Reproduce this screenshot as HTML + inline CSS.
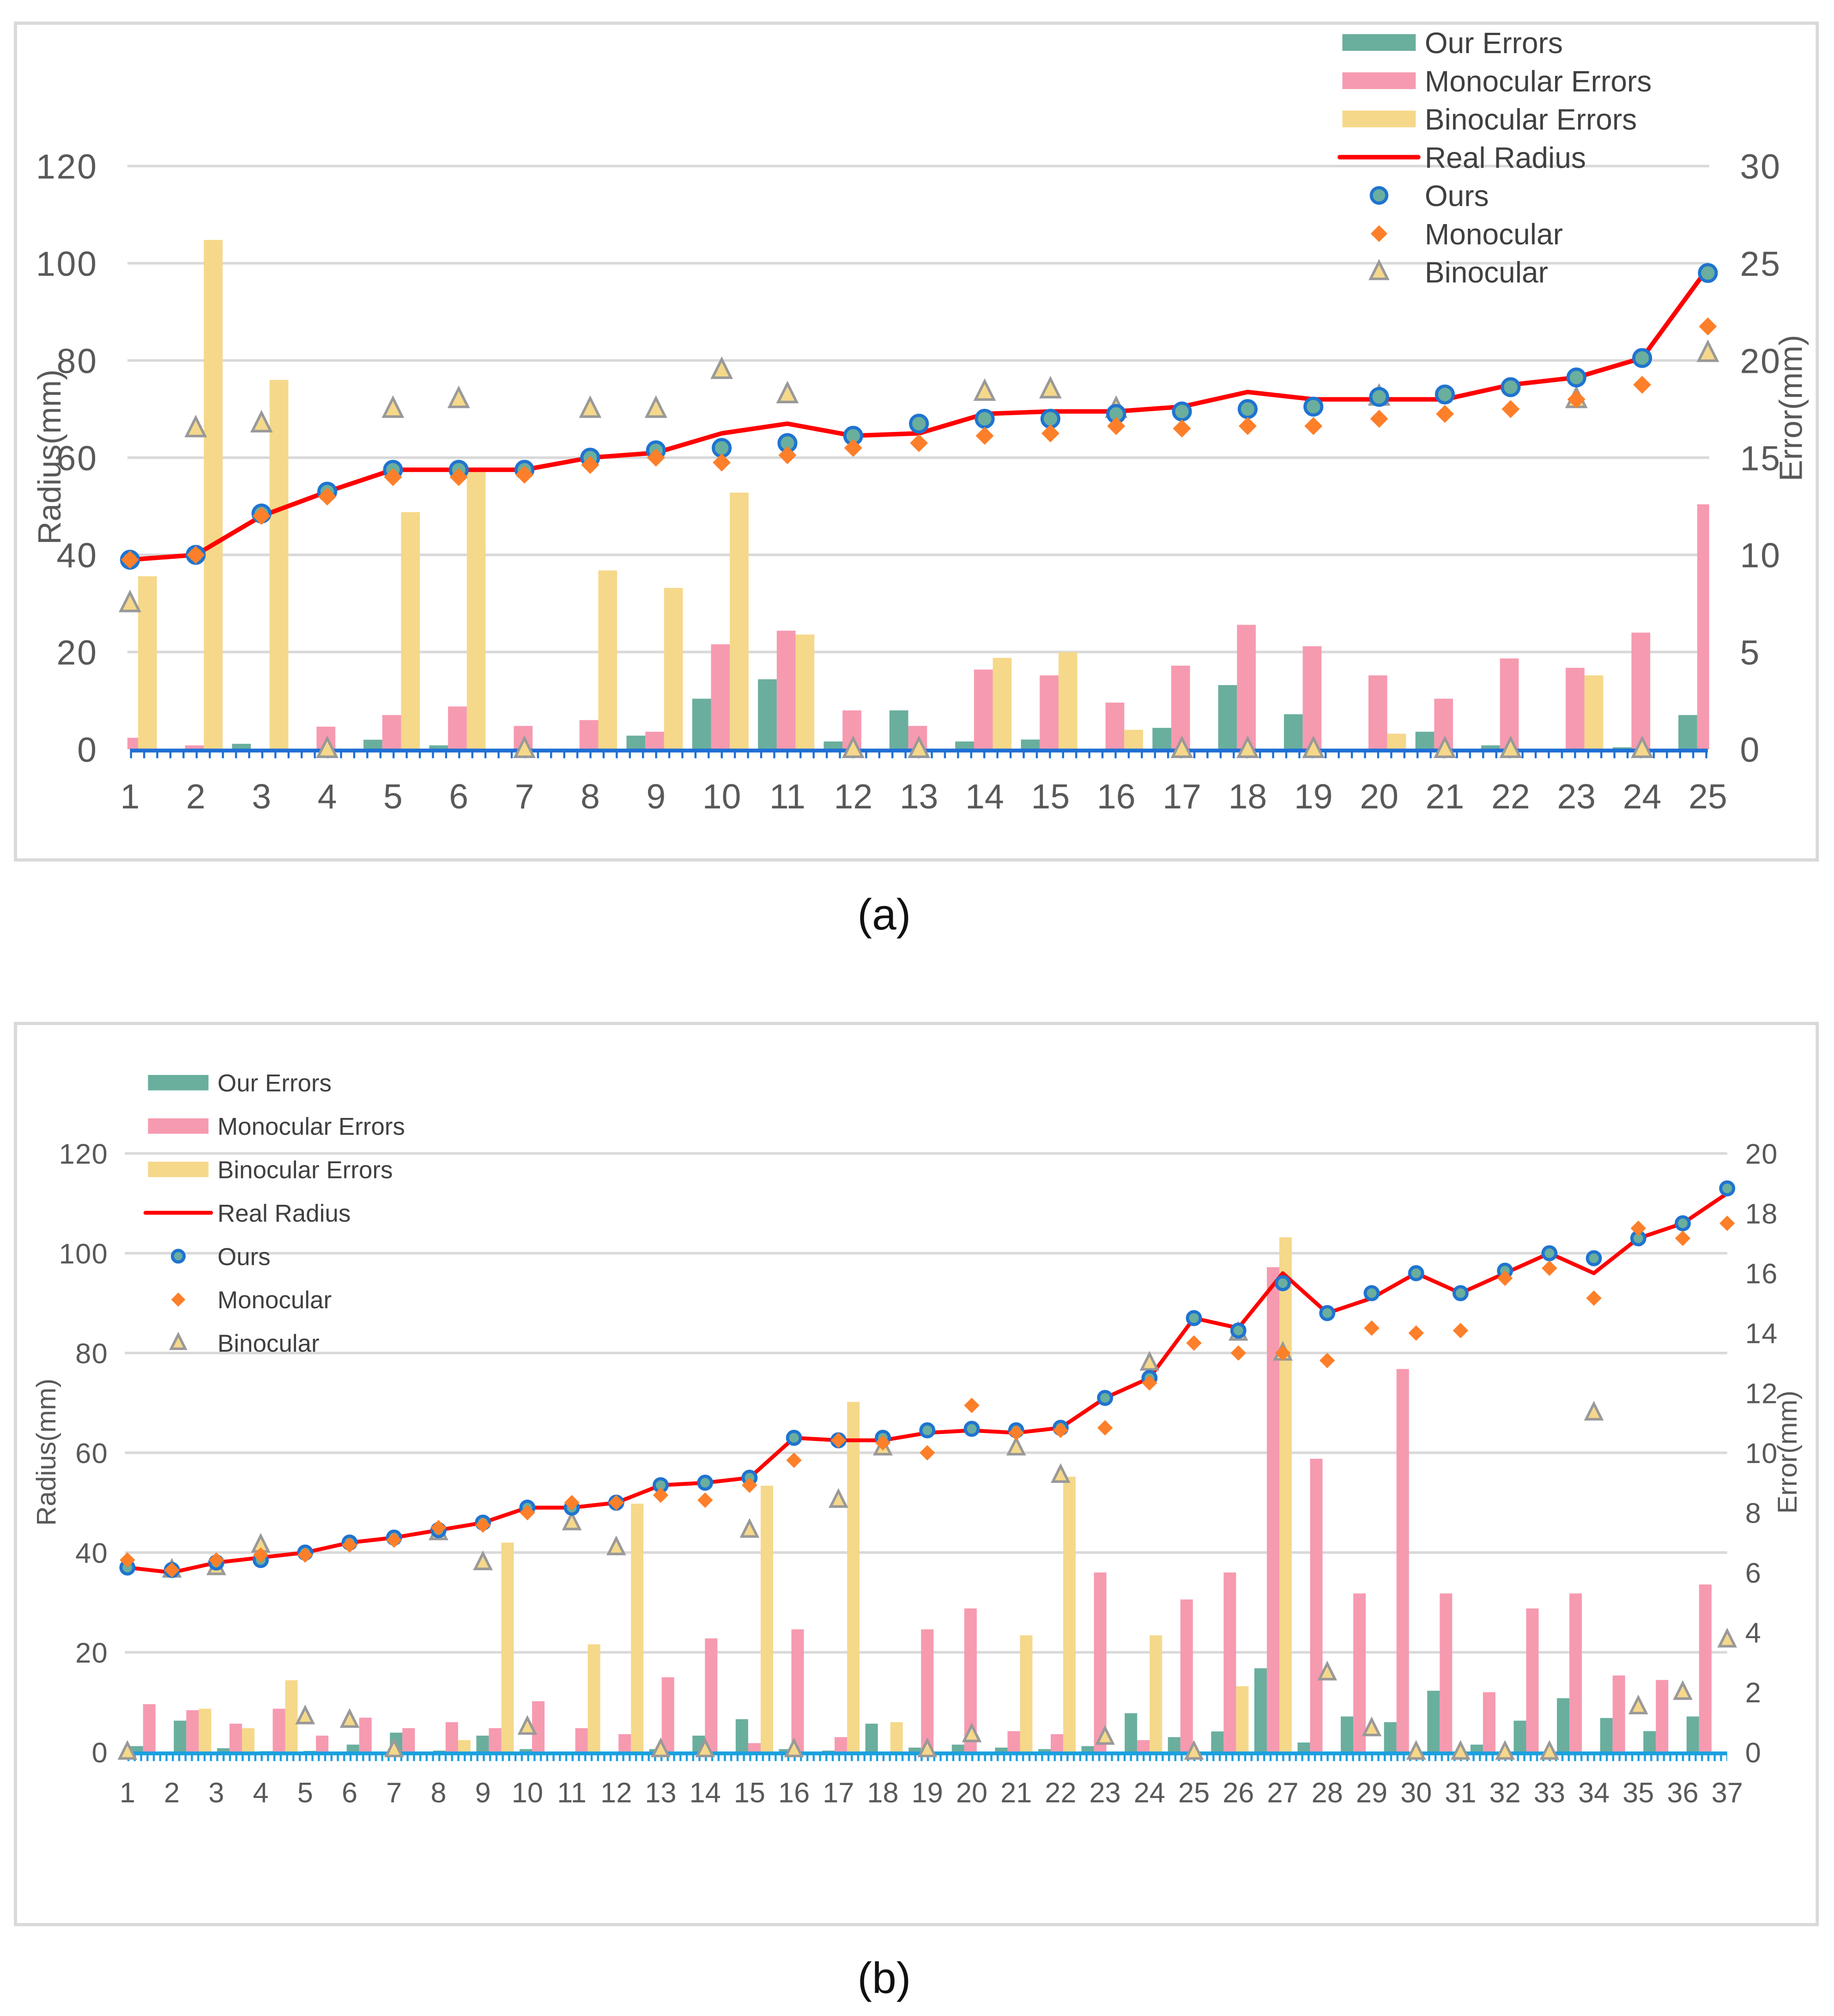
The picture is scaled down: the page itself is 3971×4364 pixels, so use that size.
<!DOCTYPE html>
<html><head><meta charset="utf-8">
<style>
html,body{margin:0;padding:0;background:#fff;}
svg{display:block;}
text{font-family:"Liberation Sans",sans-serif;}
</style></head>
<body>
<svg id="root" xmlns="http://www.w3.org/2000/svg" width="3971" height="4364" viewBox="0 0 1425 1566" preserveAspectRatio="none">
<rect x="0" y="0" width="1425" height="1566" fill="#fff"/>
<rect x="12" y="18" width="1400" height="650" fill="none" stroke="#d9d9d9" stroke-width="2.5"/>
<rect x="12" y="795" width="1400" height="700" fill="none" stroke="#d9d9d9" stroke-width="2.5"/>
<text x="687" y="722" font-size="34" text-anchor="middle" fill="#111">(a)</text>
<text x="687" y="1548" font-size="34" text-anchor="middle" fill="#111">(b)</text>
<g id="chartA"></g>
<g id="chartB"></g>
</svg>
<script>
// ---------- Chart (a) data ----------
const catsA = [1,2,3,4,5,6,7,8,9,10,11,12,13,14,15,16,17,18,19,20,21,22,23,24,25];
const realA = [39,40,48,53,57.5,57.5,57.5,60,61,65,67,64.5,65,69,69.5,69.5,70.5,73.5,72,72,72,75,76.5,80.5,99];
const oursA = [39,40,48.5,53,57.5,57.5,57.5,60,61.5,62,63,64.5,67,68,68,69,69.5,70,70.5,72.5,73,74.5,76.5,80.5,98];
const monoA = [39,40,48,52,56,56,56.5,58.5,60,59,60.5,62,63,64.5,65,66.5,66,66.5,66.5,68,69,70,72,75,87];
const binoA = [30,66,67,0,70,72,0,70,70,78,73,0,0,73.5,74,70,0,0,0,72.5,0,0,72,0,81.5];
const ourErrA = [0,0,0.28,0,0.49,0.2,0,0,0.7,2.6,3.6,0.4,2.0,0.4,0.5,0,1.1,3.3,1.8,0,0.9,0.2,0,0.1,1.76];
const monoErrA = [0.59,0.2,0,1.16,1.76,2.2,1.2,1.5,0.9,5.4,6.1,2.0,1.2,4.1,3.8,2.4,4.3,6.4,5.3,3.8,2.6,4.67,4.19,6.0,12.6];
const binoErrA = [8.9,26.2,19,0,12.2,14.3,0,9.2,8.3,13.2,5.9,0,0,4.7,5.0,1.0,0,0,0,0.8,0,0,3.8,0,0];
const leftTicksA = [0,20,40,60,80,100,120];
const rightTicksA = [0,5,10,15,20,25,30];

// ---------- Chart (b) data ----------
const catsB = [1,2,3,4,5,6,7,8,9,10,11,12,13,14,15,16,17,18,19,20,21,22,23,24,25,26,27,28,29,30,31,32,33,34,35,36,37];
const realB = [37,36,38,39,40,42,43,44.5,46,49,49,50,53.5,54,55,63,62.5,62.5,64,64.5,64,65,71,75,87,85,96,88,91,96,92,96,100,96,103,106,112];
const oursB = [37,36.5,38,38.5,40,42,43,44.5,46,49,49,50,53.5,54,55,63,62.5,63,64.5,64.8,64.5,65,71,75,87,84.5,94,88,92,96,92,96.5,100,99,103,106,113];
const monoB = [38.5,36.5,38.5,39.5,39.5,41.5,42.5,45,45.5,48,50,50,51.5,50.5,53.5,58.5,62.5,62,60,69.5,64,64.5,65,74,82,80,80,78.5,85,84,84.5,95,97,91,105,103,106];
const binoB = [0,36.5,37,41.5,7.1,6.4,0.5,44,38,5,46,41,0.5,0.5,44.5,0.5,50.5,61,0.5,3.5,61,55.5,3,78,0,84,80,15.9,4.7,0,0,0,0,68,9.1,12,22.5];
const ourErrB = [0.2,1.05,0.13,0.03,0.04,0.25,0.65,0.05,0.55,0.1,0,0,0.1,0.55,1.1,0.1,0.05,0.95,0.15,0.25,0.15,0.1,0.2,1.3,0.5,0.69,2.8,0.32,1.19,1.0,2.05,0.25,1.05,1.8,1.14,0.7,1.19];
const monoErrB = [1.6,1.4,0.95,1.45,0.55,1.15,0.8,1.0,0.8,1.7,0.8,0.6,2.5,3.8,0.3,4.1,0.5,0,4.1,4.8,0.7,0.6,6.0,0.4,5.1,6.0,16.2,9.8,5.3,12.8,5.3,2.0,4.8,5.3,2.56,2.41,5.6];
const binoErrB = [0,1.45,0.8,2.4,0,0,0,0.4,7.0,0,3.6,8.3,0,0,8.9,0,11.7,1.0,0,0,3.9,9.2,0,3.9,0,2.2,17.2,0,0,0,0,0,0,0,0,0,0];
const leftTicksB = [0,20,40,60,80,100,120];
const rightTicksB = [0,2,4,6,8,10,12,14,16,18,20];

const NS = "http://www.w3.org/2000/svg";
function mk(parent, tag, attrs){
  const e = document.createElementNS(NS, tag);
  for (const k in attrs) e.setAttribute(k, attrs[k]);
  parent.appendChild(e);
  return e;
}
const C_GREEN="#6aae9e", C_PINK="#f69ab0", C_YEL="#f5d88a", C_RED="#ff0000", C_ORANGE="#fd7f2a", C_BLUEM="#1f74d0", C_TRI="#999999";

function drawChart(g, cfg, cats, real, ours, mono, bino, ourErr, monoErr, binoErr, lt, rt){
  const n = cats.length;
  const px = i => cfg.x0 + (cfg.x1 - cfg.x0) * i / (n - 1);
  const bx = i => cfg.b0 + (cfg.b1 - cfg.b0) * i / (n - 1);
  const yl = v => cfg.yb - (cfg.yb - cfg.yt) * v / cfg.lmax;
  const yr = v => cfg.yb - (cfg.yb - cfg.yt) * v / cfg.rmax;
  // gridlines + left ticks
  lt.forEach(v => {
    if (v > 0) {
      const gl = mk(g, "line", {x1: cfg.gx0, x2: cfg.gx1, y1: yl(v), y2: yl(v), stroke: "#d9d9d9", "stroke-width": 2});
      
      
    }
    const t = mk(g, "text", {x: cfg.ltx, y: yl(v) + cfg.fs * 0.36, "font-size": cfg.fs, fill: "#595959", "text-anchor": "end", "letter-spacing": cfg.ls});
    t.textContent = v;
    
    
  });
  rt.forEach(v => {
    const t = mk(g, "text", {x: cfg.rtx, y: yr(v) + cfg.fs * 0.36, "font-size": cfg.fs, fill: "#595959", "letter-spacing": cfg.ls});
    t.textContent = v;
    
    
  });
  // bars
  const clip = mk(g, "clipPath", {id: cfg.id + "clip"});
  mk(clip, "rect", {x: cfg.gx0, y: 0, width: cfg.gx1 - cfg.gx0, height: cfg.yb + 1});
  const bg = mk(g, "g", {"clip-path": "url(#" + cfg.id + "clip)"});
  
  
  const series = [[ourErr, C_GREEN, "our-error-bar"], [monoErr, C_PINK, "monocular-error-bar"], [binoErr, C_YEL, "binocular-error-bar"]];
  series.forEach((s, k) => {
    s[0].forEach((v, i) => {
      if (v <= 0) return;
      const x = bx(i) - 1.5 * cfg.bw + k * cfg.bw;
      const r = mk(bg, "rect", {x: x, y: yr(v), width: cfg.bw, height: cfg.yb - yr(v), fill: s[1]});
      
      
    });
  });
  // blue x axis
  const ax = mk(g, "line", {x1: cfg.x0, x2: cfg.x1, y1: cfg.yb + 1, y2: cfg.yb + 1, stroke: cfg.axc, "stroke-width": 3});
  
  
  const tk = mk(g, "line", {x1: cfg.x0, x2: cfg.x1, y1: cfg.yb + 4, y2: cfg.yb + 4, stroke: cfg.axc, "stroke-width": 6, "stroke-dasharray": "1.6 " + (cfg.tickStep - 1.6)});
  
  
  cats.forEach((c, i) => {
    const t = mk(g, "text", {x: px(i), y: cfg.xly, "font-size": cfg.fs, fill: "#595959", "text-anchor": "middle"});
    t.textContent = c;
    
    
  });
  // real radius line
  const pts = real.map((v, i) => px(i).toFixed(1) + "," + yl(v).toFixed(1)).join(" ");
  const pl = mk(g, "polyline", {points: pts, fill: "none", stroke: C_RED, "stroke-width": cfg.lw, "stroke-linejoin": "round"});
  
  
  // binocular triangles
  bino.forEach((v, i) => {
    const x = px(i), y = yl(v), s = cfg.ts;
    const tr = mk(g, "polygon", {points: (x) + "," + (y - s * 0.65) + " " + (x - s * 0.55) + "," + (y + s * 0.45) + " " + (x + s * 0.55) + "," + (y + s * 0.45), fill: C_YEL, stroke: C_TRI, "stroke-width": 2});
    
    
  });
  ours.forEach((v, i) => {
    const c = mk(g, "circle", {cx: px(i), cy: yl(v), r: cfg.cr, fill: C_GREEN, stroke: C_BLUEM, "stroke-width": 2.5});
    
    
  });
  mono.forEach((v, i) => {
    const x = px(i), y = yl(v), d = cfg.ds;
    const p = mk(g, "polygon", {points: x + "," + (y - d) + " " + (x + d) + "," + y + " " + x + "," + (y + d) + " " + (x - d) + "," + y, fill: C_ORANGE});
    
    
  });
  // axis titles
  const lt1 = mk(g, "text", {x: 0, y: 0, "font-size": cfg.tfs, fill: "#595959", "text-anchor": "middle", transform: "translate(" + cfg.ltitle[0] + "," + cfg.ltitle[1] + ") rotate(-90)"});
  lt1.textContent = "Radius(mm)";
  
  
  const rt1 = mk(g, "text", {x: 0, y: 0, "font-size": cfg.tfs, fill: "#595959", "text-anchor": "middle", transform: "translate(" + cfg.rtitle[0] + "," + cfg.rtitle[1] + ") rotate(-90)"});
  rt1.textContent = "Error(mm)";
  
  
  // legend
  const L = cfg.leg;
  const names = ["Our Errors", "Monocular Errors", "Binocular Errors", "Real Radius", "Ours", "Monocular", "Binocular"];
  names.forEach((nm, k) => {
    const y = L.y0 + k * L.dy;
    const sx = L.x, sw = L.sw, mx = sx + sw / 2;
    let sym;
    if (k < 3) {
      sym = mk(g, "rect", {x: sx, y: y - L.sh / 2, width: sw, height: L.sh, fill: [C_GREEN, C_PINK, C_YEL][k]});
    } else if (k === 3) {
      sym = mk(g, "line", {x1: sx - 2, x2: sx + sw + 2, y1: y, y2: y, stroke: C_RED, "stroke-width": cfg.lw, "stroke-linecap": "round"});
    } else if (k === 4) {
      sym = mk(g, "circle", {cx: mx, cy: y, r: cfg.cr - 0.5, fill: C_GREEN, stroke: C_BLUEM, "stroke-width": 2.5});
    } else if (k === 5) {
      const d = cfg.ds - 0.5;
      sym = mk(g, "polygon", {points: mx + "," + (y - d) + " " + (mx + d) + "," + y + " " + mx + "," + (y + d) + " " + (mx - d) + "," + y, fill: C_ORANGE});
    } else {
      const s = cfg.ts - 1;
      sym = mk(g, "polygon", {points: mx + "," + (y - s * 0.65) + " " + (mx - s * 0.55) + "," + (y + s * 0.45) + " " + (mx + s * 0.55) + "," + (y + s * 0.45), fill: C_YEL, stroke: C_TRI, "stroke-width": 2});
    }
    
    
    const t = mk(g, "text", {x: L.tx, y: y + L.fs * 0.36, "font-size": L.fs, fill: "#404040"});
    t.textContent = nm;
    
    
  });
}

drawChart(document.getElementById("chartA"), {
  id: "a", x0: 101, x1: 1327, b0: 100, b1: 1326, gx0: 99, gx1: 1328,
  yb: 582, yt: 129, lmax: 120, rmax: 30, bw: 14.6,
  ltx: 76, rtx: 1352, xly: 628, fs: 27, ls: 1, tfs: 25, lw: 3.5, axc: "#1f6fd6", tickStep: 10.2,
  cr: 6.5, ds: 7, ts: 13,
  ltitle: [47, 355], rtitle: [1400, 317],
  leg: {x: 1043, sw: 57, sh: 13, tx: 1107, y0: 33, dy: 29.7, fs: 23}
}, catsA, realA, oursA, monoA, binoA, ourErrA, monoErrA, binoErrA, leftTicksA, rightTicksA);

drawChart(document.getElementById("chartB"), {
  id: "b", x0: 99, x1: 1342, b0: 116, b1: 1325, gx0: 97, gx1: 1342,
  yb: 1361, yt: 896, lmax: 120, rmax: 20, bw: 9.7,
  ltx: 84, rtx: 1356, xly: 1400, fs: 22, ls: 0.5, tfs: 21, lw: 3, axc: "#1ba0e0", tickStep: 4.93,
  cr: 5, ds: 6, ts: 11,
  ltitle: [43, 1128], rtitle: [1396, 1128],
  leg: {x: 115, sw: 47, sh: 12, tx: 169, y0: 841, dy: 33.7, fs: 19}
}, catsB, realB, oursB, monoB, binoB, ourErrB, monoErrB, binoErrB, leftTicksB, rightTicksB);
</script>
</body></html>
